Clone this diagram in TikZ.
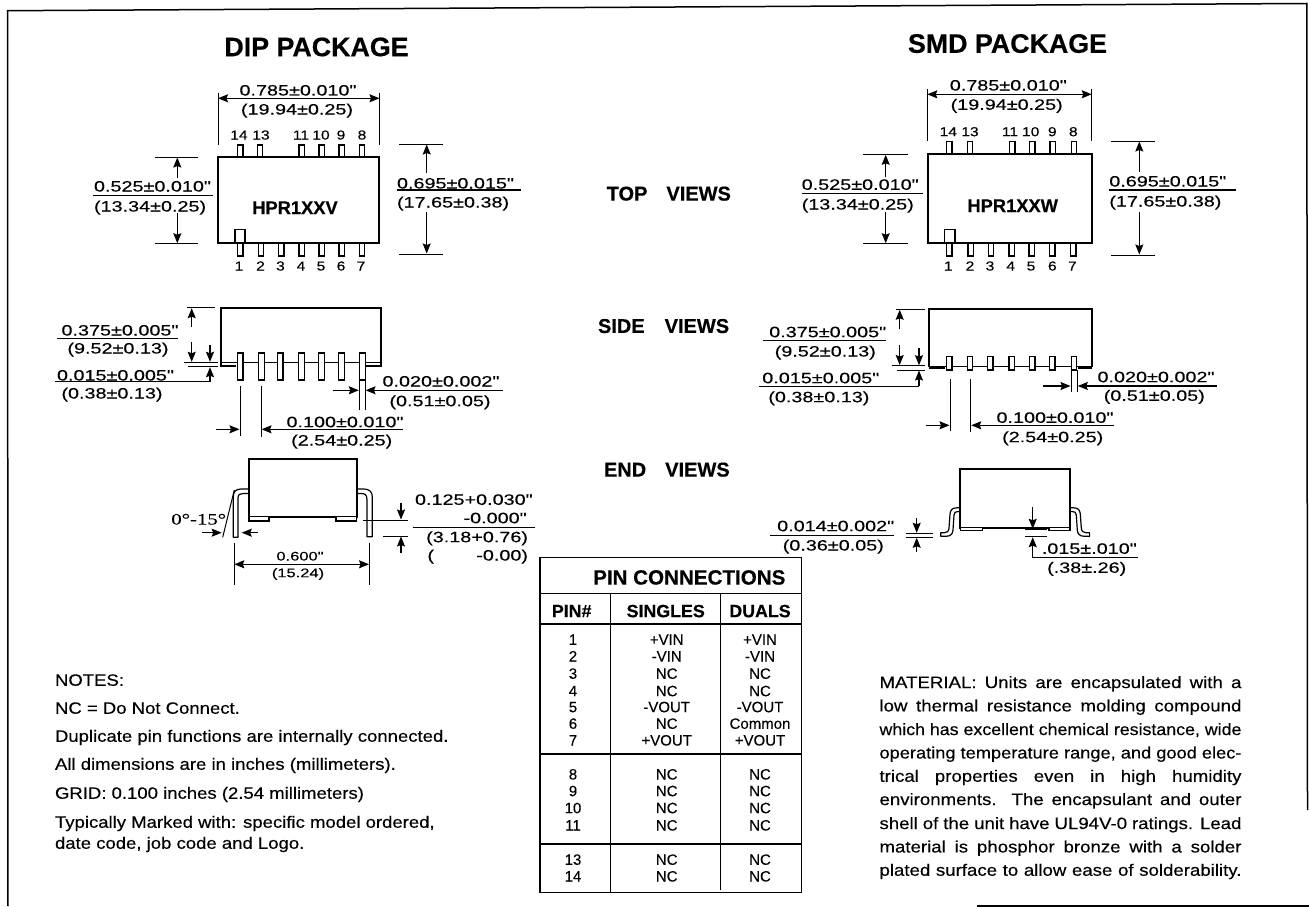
\documentclass[tikz,border=0pt]{standalone}
\usepackage{fontspec}
\usepackage{graphicx}
\usetikzlibrary{arrows.meta}
\setmainfont{Liberation Sans}
\newfontfamily\dimfam[FakeStretch=1.32,FakeBold=0.25]{Liberation Sans}
\newfontfamily\pinfam[FakeStretch=1.2,FakeBold=0.25]{Liberation Sans}
\newfontfamily\txtfam[FakeBold=0.2]{Liberation Sans}
\newfontfamily\parfam[FakeStretch=1.13,FakeBold=0.25]{Liberation Sans}
\newfontfamily\serfam[FakeStretch=1.3,FakeBold=0.2]{Liberation Serif}
\newfontfamily\boldfam[BoldFeatures={FakeBold=0.4}]{Liberation Sans}
\newcounter{tn}
\newcommand{\T}[4][]{\stepcounter{tn}\node[lbl,#1] (t\arabic{tn}) at (#2,#3) {#4};}
\newcommand{\Mat}[2]{\stepcounter{tn}\node[para,anchor=west] (t\arabic{tn}) at (879.5,#1) {\makebox[362pt][s]{#2}};}
\newcommand{\MatTight}[2]{\stepcounter{tn}\node[para,anchor=west] (t\arabic{tn}) at (879.5,#1) {\resizebox{362pt}{\height}{#2}};}
\tikzset{
  lbl/.style={inner sep=0pt,outer sep=0pt,anchor=center,text height=11pt,text depth=0pt,font=\dimfam\fontsize{15}{18}\selectfont},
  pinno/.style={text height=9pt,font=\pinfam\fontsize{13}{15}\selectfont},
  para/.style={inner sep=0pt,outer sep=0pt,text height=11.5pt,text depth=0pt,font=\parfam\fontsize{16.5}{18}\selectfont},
  note/.style={anchor=west,text height=11.5pt,font=\parfam\fontsize{16.4}{18}\selectfont},
  head/.style={text height=19pt,font=\boldfam\bfseries\fontsize{26.8}{30}\selectfont},
  view/.style={text height=14.5pt,font=\boldfam\bfseries\fontsize{20}{24}\selectfont},
  thead/.style={text height=13pt,font=\boldfam\bfseries\fontsize{17.8}{20}\selectfont},
  cell/.style={text height=11pt,font=\txtfam\fontsize{15}{18}\selectfont},
  small/.style={text height=9pt,font=\dimfam\fontsize{12.5}{15}\selectfont},
  partno/.style={text height=12pt,font=\boldfam\bfseries\fontsize{18.3}{20}\selectfont},
  body/.style={draw=black,line width=1.7pt,fill=white,line join=miter},
  pin/.style={draw=black,line width=1.2pt,fill=white},
  dimline/.style={draw=black,line width=1pt},
  arr/.style={draw=black,line width=1.1pt,-{Stealth[length=10pt,width=8pt,inset=1.5pt]}},
  twoarr/.style={draw=black,line width=1.1pt,{Stealth[length=10pt,width=8pt,inset=1.5pt]}-{Stealth[length=10pt,width=8pt,inset=1.5pt]}},
  lead/.style={draw=black,line width=1.2pt,fill=white,line join=round},
  frameline/.style={draw=black,line width=1.5pt},
  tableline/.style={draw=black,line width=1.2pt},
  tablethick/.style={draw=black,line width=2pt}
}
\begin{document}
\begin{tikzpicture}[x=1pt,y=-1pt]
\useasboundingbox (0,0) rectangle (1309,907);
\fill[white] (0,0) rectangle (1309,907);
% frame
\draw[frameline] (8,906) -- (7.5,10.7) -- (1306.8,3.5) -- (1307.5,810);
\draw[frameline] (977,906) -- (1309,906);
% headings
\T[head]{316.5}{46.7}{DIP PACKAGE}
\T[head]{1007.5}{43.3}{SMD PACKAGE}
\T[view,anchor=west]{606.7}{193.3}{TOP\hspace{19pt}VIEWS}
\T[view,anchor=west]{598}{325.7}{SIDE\hspace{20pt}VIEWS}
\T[view,anchor=west]{604}{469.3}{END\hspace{19pt}VIEWS}

%% DIP top view
\foreach \x in {240.3,260,301.7,321.7,341.7,362} \draw[pin] (\x-2.7,145) rectangle (\x+2.7,156.7);
\foreach \x in {240.3,261,281.3,301.7,321.7,341.7,362} \draw[pin] (\x-2.7,243) rectangle (\x+2.7,256);
\draw[body] (218.3,156.7) rectangle (379.3,242.7);
\draw[line width=1.1pt] (235,242.7) rectangle (245,229.5);
\T[partno]{295}{208}{HPR1XXV}
\foreach \x/\s in {239/14,261/13,301/11,321/10,341/9,362/8} {\T[pinno]{\x}{135}{\s}}
\foreach \x/\s in {239/1,260.5/2,280.5/3,301/4,321/5,341/6,361/7} {\T[pinno]{\x}{266}{\s}}
\draw[dimline] (218,93) -- (218,145);
\draw[dimline] (379.5,93) -- (379.5,145);
\draw[twoarr] (218,98.3) -- (379.5,98.3);
\T{298}{90}{0.785±0.010"}
\T{297}{109}{(19.94±0.25)}
\draw[dimline] (155,157) -- (198,157);
\draw[dimline] (155,243.7) -- (198,243.7);
\draw[arr] (177.3,178) -- (177.3,157.5);
\draw[arr] (177.3,213) -- (177.3,243.2);
\draw[dimline] (93,195) -- (213,195);
\T[anchor=west]{94}{186}{0.525±0.010"}
\T[anchor=west]{94}{206}{(13.34±0.25)}
\draw[dimline] (399,144) -- (443,144);
\draw[dimline] (399,254) -- (443,254);
\draw[arr] (426.7,173) -- (426.7,144.5);
\draw[arr] (426.7,212) -- (426.7,253.5);
\draw[dimline,line width=1.2pt] (397,190) -- (521,190);
\T[anchor=west]{397}{183}{0.695±0.015"}
\T[anchor=west]{397}{202}{(17.65±0.38)}

%% DIP side view
\draw[body,fill=none] (236,366) -- (220.7,366) -- (220.7,307.7) -- (380.7,307.7) -- (380.7,366) -- (365,366);
\draw[line width=1.2pt] (220.7,362.7) -- (380.7,362.7);
\foreach \x in {240,261.7,280,301.7,321.7,341.7,362.3} \draw[pin] (\x-2.9,353) rectangle (\x+2.9,380);
\draw[dimline] (187,307.7) -- (215,307.7);
\draw[arr] (191.7,327) -- (191.7,308.2);
\draw[arr] (191.7,342) -- (191.7,361.8);
\draw[dimline] (184,362.3) -- (218,362.3);
\draw[dimline] (188,366.7) -- (218,366.7);
\draw[arr] (210,345) -- (210,361.8);
\draw[dimline] (55,381.7) -- (210,381.7);
\draw[arr] (210,381.7) -- (210,367.2);
\draw[dimline] (57,338.3) -- (178,338.3);
\T{120}{330}{0.375±0.005"}
\T{118}{348}{(9.52±0.13)}
\T[anchor=west]{57}{375}{0.015±0.005"}
\T{112}{393}{(0.38±0.13)}
\draw[dimline] (359.3,380) -- (359.3,410);
\draw[dimline] (365,380) -- (365,410);
\draw[arr] (332.7,390.3) -- (358.8,390.3);
\draw[arr] (503,390.3) -- (365.5,390.3);
\T{441}{381}{0.020±0.002"}
\T{440}{400.7}{(0.51±0.05)}
\draw[dimline] (240,386) -- (240,435.7);
\draw[dimline] (261,386) -- (261,436.7);
\draw[arr] (215.7,429.3) -- (239.5,429.3);
\draw[arr] (402.7,429.3) -- (261.5,429.3);
\T{345}{421.7}{0.100±0.010"}
\T{341.7}{440}{(2.54±0.25)}

%% DIP end view
\draw[lead] (249,489) -- (241,489) .. controls (235.5,489) and (233.3,492) .. (233.3,497) -- (233.3,537.3) -- (238,537.3) -- (238,498) .. controls (238,494.5) and (240,493.5) .. (243,493.5) -- (249,493.5);
\draw[lead] (356.7,489) -- (363,489) .. controls (370,489) and (372.3,492) .. (372.3,497) -- (372.3,536.7) -- (366.9,536.7) -- (366.9,499) .. controls (366.9,495) and (365,493.5) .. (361,493.5) -- (356.7,493.5);
\draw[body] (249,459.3) rectangle (356.7,516.7);
\draw[pin] (249,516.7) rectangle (269,521);
\draw[pin] (336,516.7) rectangle (356.7,521);
\draw[dimline] (234.3,490) -- (222.7,537.3);
\T[anchor=center,text height=10.5pt,font=\serfam\fontsize{16}{18}\selectfont]{198.7}{519.3}{0°-15°}
\draw[arr] (202.3,532.7) -- (221.7,532.7);
\draw[arr] (258,532.7) -- (241.7,532.7);
\draw[dimline] (234.3,542.7) -- (234.3,585);
\draw[dimline] (369,542.7) -- (369,585);
\draw[twoarr] (234.3,564.3) -- (369,564.3);
\T[small]{300}{556}{0.600"}
\T[small]{298}{572.7}{(15.24)}
\draw[dimline] (363,520) -- (407.7,520);
\draw[dimline] (383,536) -- (407.7,536);
\draw[arr] (401,503) -- (401,519.5);
\draw[arr] (401,552.7) -- (401,536.5);
\draw[dimline] (412.7,527.7) -- (535,527.7);
\T[anchor=east]{532.7}{499.3}{0.125+0.030"}
\T[anchor=east]{526.7}{517.7}{-0.000"}
\T[anchor=east]{528}{536.7}{(3.18+0.76)}
\T{430.7}{555}{(}
\T[anchor=east]{528}{555}{-0.00)}

%% SMD top view
\foreach \x in {949.3,970,1012.3,1032.3,1052.7,1074} \draw[pin] (\x-2.7,141.7) rectangle (\x+2.7,153.7);
\foreach \x in {949.3,970.7,991,1011.7,1031.7,1052.3,1073.3} \draw[pin] (\x-2.7,243) rectangle (\x+2.7,256);
\draw[body] (927.7,153.7) rectangle (1091.7,242.7);
\draw[line width=1.1pt] (944.3,242.7) rectangle (955,229.5);
\T[partno]{1012.7}{206}{HPR1XXW}
\foreach \x/\s in {948.3/14,970/13,1010/11,1030.7/10,1052.3/9,1073.3/8} {\T[pinno]{\x}{131.7}{\s}}
\foreach \x/\s in {948.3/1,970/2,990/3,1010.7/4,1031/5,1052.3/6,1072.3/7} {\T[pinno]{\x}{266}{\s}}
\draw[dimline] (927.3,89.3) -- (927.3,141);
\draw[dimline] (1091.7,89.3) -- (1091.7,141);
\draw[twoarr] (927.3,94.3) -- (1091.7,94.3);
\T{1008.3}{85}{0.785±0.010"}
\T{1006.7}{104.3}{(19.94±0.25)}
\draw[dimline] (863.3,154.3) -- (907.7,154.3);
\draw[dimline] (863.3,243.7) -- (907.7,243.7);
\draw[arr] (885.7,176.7) -- (885.7,154.8);
\draw[arr] (885.7,212.3) -- (885.7,243.2);
\draw[dimline] (801.7,193.7) -- (922.7,193.7);
\T[anchor=west]{801.7}{184.3}{0.525±0.010"}
\T[anchor=west]{801.7}{204}{(13.34±0.25)}
\draw[dimline] (1111,141) -- (1155,141);
\draw[dimline] (1111,255) -- (1155,255);
\draw[arr] (1139.3,171.7) -- (1139.3,141.5);
\draw[arr] (1139.3,211.7) -- (1139.3,254.5);
\draw[dimline,line width=1.2pt] (1109.3,190) -- (1235.7,190);
\T[anchor=west]{1109.3}{181}{0.695±0.015"}
\T[anchor=west]{1109.3}{201}{(17.65±0.38)}

%% SMD side view
\draw[body,fill=none] (929.3,367) -- (929.3,309.3) -- (1092.3,309.3) -- (1092.3,367);
\draw[line width=1.2pt] (929.3,366.7) -- (1092.3,366.7);
\draw[line width=2.2pt] (929.3,368) -- (945,368);
\draw[line width=2.2pt] (1078,368) -- (1092.3,368);
\foreach \x in {949.3,970,990.3,1011.7,1032.3,1052.3,1074} \draw[pin] (\x-2.7,356.7) rectangle (\x+2.7,370);
\draw[dimline] (895.7,309.3) -- (925,309.3);
\draw[arr] (899.7,329.3) -- (899.7,309.8);
\draw[arr] (899.7,345) -- (899.7,365);
\draw[dimline] (891.7,365.7) -- (925,365.7);
\draw[dimline] (896.7,370) -- (925,370);
\draw[arr] (919,348.3) -- (919,365.2);
\draw[dimline] (759,386) -- (919,386);
\draw[arr] (919,386) -- (919,370.5);
\draw[dimline] (763.3,340.7) -- (885.7,340.7);
\T{827.7}{331.7}{0.375±0.005"}
\T{825.3}{351}{(9.52±0.13)}
\T[anchor=west]{762.3}{377.7}{0.015±0.005"}
\T[anchor=west]{768.3}{396.7}{(0.38±0.13)}
\draw[dimline] (1071,370) -- (1071,391.7);
\draw[dimline] (1077.3,370) -- (1077.3,391.7);
\draw[arr] (1042.7,386) -- (1070.5,386);
\draw[arr] (1216.7,386) -- (1077.8,386);
\T{1156}{376.7}{0.020±0.002"}
\T{1154.3}{395.3}{(0.51±0.05)}
\draw[dimline] (950,379.3) -- (950,430.7);
\draw[dimline] (970.7,379.3) -- (970.7,432.3);
\draw[arr] (925.7,425.3) -- (949.5,425.3);
\draw[arr] (1114,425.3) -- (971.2,425.3);
\T{1055}{417.3}{0.100±0.010"}
\T{1052.7}{436.7}{(2.54±0.25)}

%% SMD end view
\draw[lead] (960.3,507.8) -- (957,507.8) .. controls (952,507.8) and (950.5,510) .. (950,514) -- (949,528) .. controls (948.7,531.5) and (947,532.8) .. (944,532.8) -- (940.7,532.8) -- (940.7,536.3) -- (946,536.3) .. controls (951,536.3) and (952.8,533.5) .. (953,530) -- (954,515) .. controls (954.2,512.5) and (955.5,511.5) .. (958,511.5) -- (960.3,511.5);
\begin{scope}[shift={(2030.3,0)},xscale=-1]
\draw[lead] (960.3,507.8) -- (957,507.8) .. controls (952,507.8) and (950.5,510) .. (950,514) -- (949,528) .. controls (948.7,531.5) and (947,532.8) .. (944,532.8) -- (940.7,532.8) -- (940.7,536.3) -- (946,536.3) .. controls (951,536.3) and (952.8,533.5) .. (953,530) -- (954,515) .. controls (954.2,512.5) and (955.5,511.5) .. (958,511.5) -- (960.3,511.5);
\end{scope}
\draw[body] (960.3,468.7) rectangle (1070,527.8);
\draw[pin] (960.3,527.3) rectangle (982.3,530.7);
\draw[pin] (1049,527.3) rectangle (1070,530.7);
\draw[dimline] (906,533.3) -- (932.7,533.3);
\draw[dimline] (906,537.3) -- (932.7,537.3);
\draw[arr] (916.7,518.3) -- (916.7,532.8);
\draw[arr] (916.7,551.7) -- (916.7,537.8);
\draw[dimline] (770,535) -- (894.3,535);
\T{835.7}{525.7}{0.014±0.002"}
\T{833.3}{545}{(0.36±0.05)}
\draw[dimline] (1025,529.3) -- (1046.7,529.3);
\draw[dimline] (1025,536.7) -- (1046.7,536.7);
\draw[arr] (1032.7,506.7) -- (1032.7,528.8);
\draw[dimline] (1137.7,557.7) -- (1032.7,557.7);
\draw[arr] (1032.7,557.7) -- (1032.7,537.2);
\T{1089.3}{548.3}{.015±.010"}
\T{1086.7}{567.3}{(.38±.26)}

%% Pin table
\draw[tableline] (540,557.3) rectangle (801.7,892.3);
\draw[tableline] (540,593.3) -- (801.7,593.3);
\draw[tableline] (540,624) -- (801.7,624);
\draw[tablethick] (540,754.3) -- (801.7,754.3);
\draw[tablethick] (540,844) -- (801.7,844);
\draw[tableline] (610.7,593.3) -- (610.7,892.3);
\draw[tableline] (720.7,593.3) -- (720.7,890);
\T[text height=14.5pt,font=\boldfam\bfseries\fontsize{20.6}{24}\selectfont]{689.3}{577.3}{PIN CONNECTIONS}
\T[thead]{571.7}{610.7}{PIN\#}
\T[thead]{665.7}{610.7}{SINGLES}
\T[thead]{760}{610.7}{DUALS}
\foreach \y/\a/\b/\c in {639.3/1/+VIN/+VIN,656/2/-VIN/-VIN,673.3/3/NC/NC,690.7/4/NC/NC,706.7/5/-VOUT/-VOUT,723.3/6/NC/Common,740/7/+VOUT/+VOUT,774/8/NC/NC,790.7/9/NC/NC,807.7/10/NC/NC,825/11/NC/NC,859.3/13/NC/NC,876/14/NC/NC} {
  \T[cell]{573}{\y}{\a}
  \T[cell]{666.7}{\y}{\b}
  \T[cell]{760}{\y}{\c}
}

%% Notes
\T[note]{55}{680}{NOTES:}
\T[note]{55}{708}{NC = Do Not Connect.}
\T[note]{55}{736}{Duplicate pin functions are internally connected.}
\T[note]{55}{764}{All dimensions are in inches (millimeters).}
\T[note]{55}{793}{GRID: 0.100 inches (2.54 millimeters)}
\T[note]{55}{822}{Typically Marked with: specific model ordered,}
\T[note]{55}{843}{date code, job code and Logo.}

%% Material
\Mat{682.3}{MATERIAL: Units are encapsulated with a}
\Mat{705.7}{low thermal resistance molding compound}
\MatTight{729.3}{which has excellent chemical resistance, wide}
\MatTight{752.7}{operating temperature range, and good elec-}
\Mat{776}{trical properties even in high humidity}
\Mat{799.3}{environments. The encapsulant and outer}
\Mat{823.3}{shell of the unit have UL94V-0 ratings. Lead}
\Mat{846.7}{material is phosphor bronze with a solder}
\Mat{870}{plated surface to allow ease of solderability.}
\end{tikzpicture}
\end{document}
